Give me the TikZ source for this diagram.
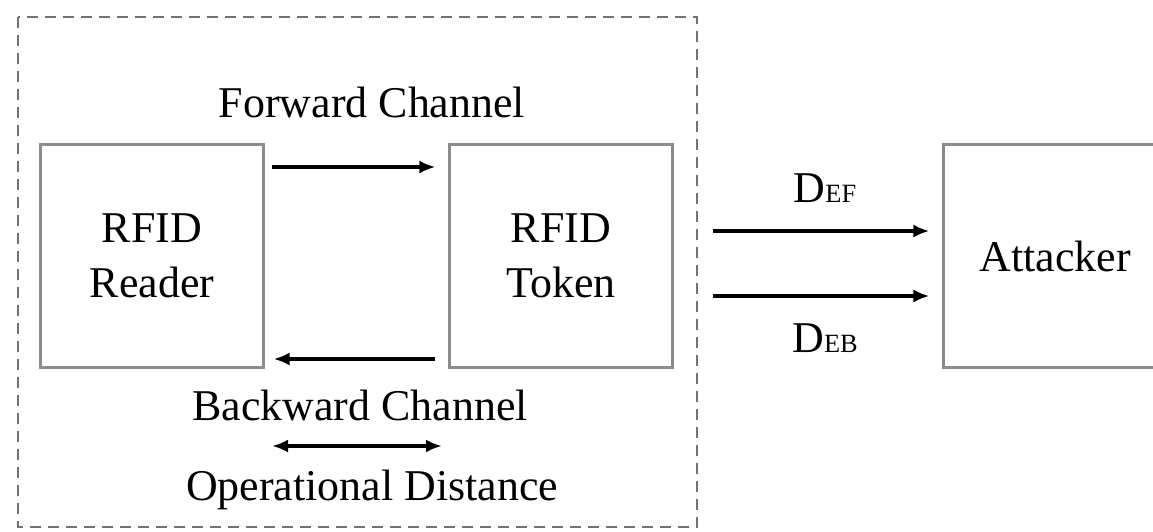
\documentclass[tikz,border=0pt]{standalone}
\usepackage{fontspec}
\setmainfont{Liberation Serif}
\usetikzlibrary{arrows.meta}

\begin{document}
\begin{tikzpicture}[x=0.02cm,y=-0.02cm,
    box/.style={draw=black!45,line width=1.2pt,minimum width=4.46cm,minimum height=4.46cm,
      align=center,font=\fontsize{25}{31}\selectfont},
    lbl/.style={font=\fontsize{25}{31}\selectfont},
    flow/.style={line width=2pt,-{Latex[length=0.32cm,width=0.26cm]}}]
  \useasboundingbox (0,0) rectangle (1153,531);
  % outer dashed region
  \draw[black!55,line width=1.3pt,dash pattern=on 0.22cm off 0.14cm] (18,17) rectangle (697,527);
  \node[box] (reader) at (152,256) {RFID\\Reader};
  \node[box] (token) at (561,256) {RFID\\Token};
  \node[box] (attacker) at (1055,256) {Attacker};
  % channels
  \node[lbl] (fwd) at (372,102) {Forward Channel};
  \node[lbl] (bwd) at (360,405) {Backward Channel};
  \node[lbl] (opd) at (372,490) {Operational Distance};
  \coordinate (f1) at (reader.east |- 0,167);
  \coordinate (f2) at (token.west |- 0,167);
  \draw[flow] ([xshift=0.14cm]f1) -- ([xshift=-0.26cm]f2);
  \coordinate (b1) at (token.west |- 0,359);
  \coordinate (b2) at (reader.east |- 0,359);
  \draw[flow] ([xshift=-0.26cm]b1) -- ([xshift=0.18cm]b2);
  \coordinate (o1) at (272,446);
  \coordinate (o2) at (442,446);
  \draw[flow,{Latex[length=0.32cm,width=0.26cm]}-{Latex[length=0.32cm,width=0.26cm]}] (o1) -- (o2);
  % eavesdropping
  \coordinate (ef1) at (713,231);
  \coordinate (eb1) at (713,296);
  \draw[flow] (ef1) -- ([xshift=-0.26cm]ef1 -| attacker.west);
  \draw[flow] (eb1) -- ([xshift=-0.26cm]eb1 -| attacker.west);
  \node[lbl] (def) at (825,188) {D{\fontsize{15}{15}\selectfont EF}};
  \node[lbl] (deb) at (825,338) {D{\fontsize{15}{15}\selectfont EB}};
\end{tikzpicture}
\end{document}
